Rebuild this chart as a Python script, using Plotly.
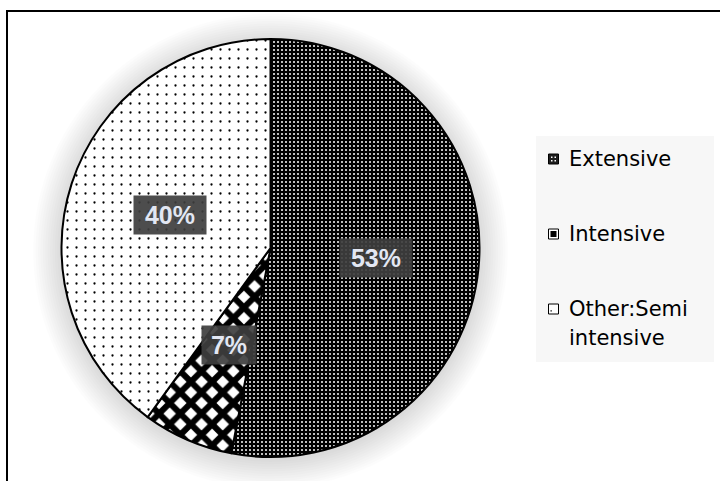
import math
import plotly.graph_objects as go

# --- data -------------------------------------------------------------
categories = ["Extensive", "Intensive", "Other:Semi intensive"]
shares = [53, 7, 40]
legend_lines = [["Extensive"], ["Intensive"], ["Other:Semi", "intensive"]]

# --- geometry (pixels) -----------------------------------------------
W, H = 720, 481
CX, CY, R = 270.5, 248.0, 209.0

def px(x):
    return x / W

def py(y):
    return 1 - y / H

dom_x = [px(CX - R), px(CX + R)]
dom_y = [py(CY + R), py(CY - R)]

# --- slice fill patterns ----------------------------------------------
pat_shape = [".", "x", "."]
pat_bg = ["black", "white", "white"]
pat_fg = ["white", "black", "black"]
pat_size = [4, 15, 9]
pat_solid = [0.2, 0.65, 0.05]

fig = go.Figure(go.Pie(
    labels=categories,
    values=shares,
    sort=False,
    direction="clockwise",
    rotation=0,
    domain=dict(x=dom_x, y=dom_y),
    marker=dict(
        colors=pat_bg,
        line=dict(color="black", width=2),
        pattern=dict(shape=pat_shape, bgcolor=pat_bg, fgcolor=pat_fg, fgopacity=1,
                     size=pat_size, solidity=pat_solid, fillmode="overlay"),
    ),
    textinfo="none",
    hoverinfo="label+percent",
    showlegend=False,
))

shapes = []

# soft glow around the pie
for i in range(12):
    rr = R + 2 + i * 2.4
    shapes.append(dict(type="circle", xref="paper", yref="paper", layer="below",
                       x0=px(CX - rr), x1=px(CX + rr), y0=py(CY + 3 + rr), y1=py(CY + 3 - rr),
                       fillcolor="rgba(0,0,0,0.011)", line=dict(width=0)))

# chart frame
shapes.append(dict(type="rect", xref="paper", yref="paper", layer="above",
                   x0=px(7), x1=px(W + 20), y0=py(H + 20), y1=py(11),
                   line=dict(color="black", width=2), fillcolor="rgba(0,0,0,0)"))

# legend panel
shapes.append(dict(type="rect", xref="paper", yref="paper", layer="below",
                   x0=px(536), x1=px(714), y0=py(362), y1=py(136),
                   fillcolor="#f7f7f7", line=dict(width=0)))

annotations = []

# value labels at half radius along each slice's mid angle
total = sum(shares)
cum = 0
label_w = {2: 44, 3: 62}
for v in shares:
    mid = (cum + v / 2) / total * 2 * math.pi
    cum += v
    lx = CX + 0.505 * R * math.sin(mid)
    ly = CY - 0.505 * R * math.cos(mid)
    txt = f"{round(100 * v / total)}%"
    annotations.append(dict(
        x=px(lx), y=py(ly), xref="paper", yref="paper", showarrow=False,
        text=txt, xanchor="center", yanchor="middle",
        font=dict(family="Liberation Sans, Arial", size=25, color="#e2e7f3", weight=700),
        bgcolor="rgba(62,62,62,0.92)", borderpad=5, width=label_w.get(len(txt), 62),
    ))

# legend entries
row_y = [159, 234, 309]
line_gap = 29
for i, lines in enumerate(legend_lines):
    sy = row_y[i]
    # swatch
    if i == 0:
        shapes.append(dict(type="rect", xref="paper", yref="paper",
                           x0=px(548.5), x1=px(558.5), y0=py(sy + 5), y1=py(sy - 5),
                           fillcolor="#1e1e1e", line=dict(color="black", width=1)))
        for gx in (551, 554.5):
            for gy in (-2.5, 1):
                shapes.append(dict(type="rect", xref="paper", yref="paper",
                                   x0=px(gx), x1=px(gx + 1.5), y0=py(sy + gy + 1.5), y1=py(sy + gy),
                                   fillcolor="white", line=dict(width=0)))
    elif i == 1:
        shapes.append(dict(type="rect", xref="paper", yref="paper",
                           x0=px(548.5), x1=px(558.5), y0=py(sy + 5), y1=py(sy - 5),
                           fillcolor="white", line=dict(color="black", width=1)))
        shapes.append(dict(type="rect", xref="paper", yref="paper",
                           x0=px(550.5), x1=px(556.5), y0=py(sy + 3), y1=py(sy - 3),
                           fillcolor="black", line=dict(width=0)))
    else:
        shapes.append(dict(type="rect", xref="paper", yref="paper",
                           x0=px(548.5), x1=px(558.5), y0=py(sy + 5), y1=py(sy - 5),
                           fillcolor="white", line=dict(color="black", width=1)))
        shapes.append(dict(type="rect", xref="paper", yref="paper",
                           x0=px(550.5), x1=px(551.8), y0=py(sy + 2.5), y1=py(sy + 1.2),
                           fillcolor="black", line=dict(width=0)))
    for j, t in enumerate(lines):
        annotations.append(dict(
            x=px(567), y=py(sy + j * line_gap), xref="paper", yref="paper",
            showarrow=False, text=t, xanchor="left", yanchor="middle",
            font=dict(family="DejaVu Sans", size=21, color="black"),
        ))

fig.update_layout(
    width=W, height=H,
    margin=dict(l=0, r=0, t=0, b=0),
    paper_bgcolor="white",
    plot_bgcolor="white",
    shapes=shapes,
    annotations=annotations,
)

fig.write_html("out.html")
